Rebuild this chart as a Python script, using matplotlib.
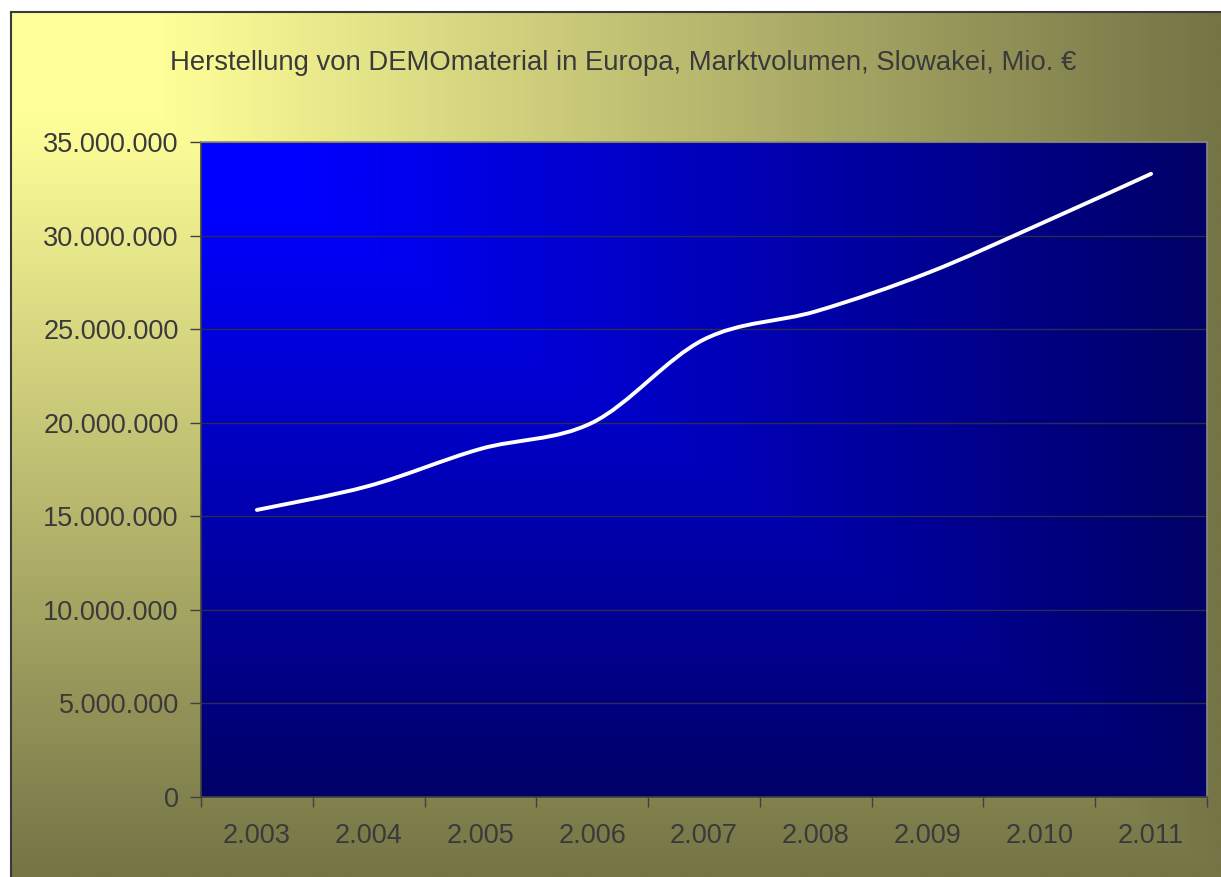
import numpy as np
import matplotlib
matplotlib.use('Agg')
import matplotlib.pyplot as plt
from matplotlib.path import Path
from matplotlib.patches import PathPatch
from matplotlib.colors import LinearSegmentedColormap
from matplotlib.ticker import FuncFormatter

plt.rcParams['font.family'] = ['Liberation Sans', 'DejaVu Sans']

years = ['2.003', '2.004', '2.005', '2.006', '2.007', '2.008', '2.009', '2.010', '2.011']
volume = [15.34e6, 16.62e6, 18.6e6, 20.0e6, 24.45e6, 25.95e6, 28.0e6, 30.6e6, 33.3e6]
y_ticks = [0, 5e6, 10e6, 15e6, 20e6, 25e6, 30e6, 35e6]
title = 'Herstellung von DEMOmaterial in Europa, Marktvolumen, Slowakei, Mio. €'

text_color = '#3a3a3a'


def corner_gradient(light, dark, flat=0.12, n=400):
    # rectangular "from corner" fill, light in the top-left corner
    u = np.linspace(0, 1, n)
    t = np.maximum(u[None, :], u[:, None])
    t = np.clip((t - flat) / (1 - flat), 0, 1)
    cmap = LinearSegmentedColormap.from_list('g', [light, dark])
    return cmap(t)


def smooth_path(xs, ys):
    # bezier through the points, like a smoothed office line
    pts = np.column_stack([np.asarray(xs, float), np.asarray(ys, float)])
    verts = [pts[0]]
    codes = [Path.MOVETO]
    n = len(pts)
    for i in range(n - 1):
        p0 = pts[max(i - 1, 0)]
        p1 = pts[i]
        p2 = pts[i + 1]
        p3 = pts[min(i + 2, n - 1)]
        verts += [p1 + (p2 - p0) / 6, p2 - (p3 - p1) / 6, p2]
        codes += [Path.CURVE4] * 3
    return Path(verts, codes)


fig = plt.figure(figsize=(12.21, 8.77), dpi=100)
fig.patch.set_facecolor('white')

# chart background
bg = fig.add_axes([11 / 1221, 0, 1 - 11 / 1221, 865 / 877])
bg.imshow(corner_gradient('#ffff99', '#747446'), extent=[0, 1, 0, 1],
          aspect='auto', origin='upper', interpolation='bilinear')
bg.set_xlim(0, 1)
bg.set_ylim(0, 1)
bg.set_xticks([])
bg.set_yticks([])
for side in ['right', 'bottom']:
    bg.spines[side].set_visible(False)
for side in ['left', 'top']:
    bg.spines[side].set_color('#3a3a3a')
    bg.spines[side].set_linewidth(1.5)

ax = fig.add_axes([201 / 1221, 80 / 877, 1006 / 1221, 655 / 877])
ax.patch.set_visible(False)
ax.imshow(corner_gradient('#0000ff', '#000066', flat=0.1), extent=[0, 1, 0, 1],
          transform=ax.transAxes, aspect='auto', origin='upper',
          interpolation='bilinear', zorder=0)

x = np.arange(len(years))
ax.add_patch(PathPatch(smooth_path(x, volume), facecolor='none', edgecolor='white',
                       linewidth=2.8, capstyle='round', zorder=3))

ax.set_xlim(-0.5, len(years) - 0.5)
ax.set_ylim(0, 35e6)

ax.set_yticks(y_ticks)
ax.yaxis.set_major_formatter(FuncFormatter(lambda v, p: f'{int(v):,}'.replace(',', '.')))
ax.yaxis.grid(True, color='#2a2a55', linewidth=1.0)
ax.tick_params(axis='y', direction='out', length=8, width=1, color='#404040',
               pad=8, labelsize=19.5, labelcolor=text_color)

ax.set_xticks(np.arange(len(years) + 1) - 0.5)
ax.set_xticklabels([])
ax.set_xticks(x, minor=True)
ax.set_xticklabels(years, minor=True)
ax.tick_params(axis='x', which='major', direction='out', length=7, width=1, color='#404040')
ax.tick_params(axis='x', which='minor', length=0, pad=19, labelsize=19.5,
               labelcolor=text_color)

for side in ['left', 'bottom']:
    ax.spines[side].set_color('#404040')
    ax.spines[side].set_linewidth(1.2)
for side in ['top', 'right']:
    ax.spines[side].set_color('#8a8a80')
    ax.spines[side].set_linewidth(1.2)

fig.text(623 / 1221, 1 - 63 / 877, title, ha='center', va='center',
         fontsize=19.8, color=text_color)

fig.savefig('out.png', dpi=100)
